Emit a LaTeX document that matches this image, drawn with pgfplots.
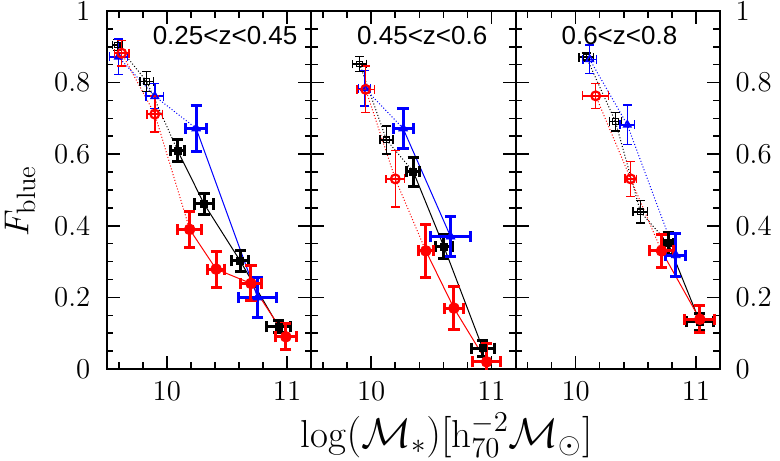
\documentclass[border=0pt]{standalone}
\usepackage{fontspec}
\newfontfamily\hel{Liberation Sans}
\usepackage{pgfplots}
\usepackage{pgfplotstable}
\pgfplotsset{compat=1.18}

% columns: x y ex ey  (open points first, then filled ones)
\pgfplotstableread{
x y ex ey
9.588 0.905 0.040 0.015
9.833 0.803 0.058 0.028
10.09 0.610 0.060 0.030
10.31 0.461 0.077 0.030
10.61 0.302 0.073 0.029
10.93 0.118 0.097 0.017
}\kA
\pgfplotstableread{
x y ex ey
9.625 0.882 0.060 0.036
9.900 0.712 0.064 0.050
10.19 0.390 0.100 0.050
10.41 0.279 0.072 0.050
10.70 0.239 0.090 0.049
10.99 0.090 0.090 0.036
}\rA
\pgfplotstableread{
x y ex ey
9.597 0.872 0.074 0.050
9.900 0.762 0.074 0.035
10.244 0.672 0.090 0.065
10.755 0.200 0.160 0.056
}\bA
\pgfplotstableread{
x y ex ey
9.904 0.852 0.058 0.021
10.127 0.640 0.055 0.039
10.35 0.551 0.055 0.041
10.604 0.342 0.072 0.034
10.927 0.058 0.097 0.022
}\kB
\pgfplotstableread{
x y ex ey
9.954 0.781 0.074 0.065
10.20 0.531 0.076 0.079
10.454 0.330 0.060 0.075
10.688 0.170 0.079 0.060
10.96 0.020 0.118 0.050
}\rB
\pgfplotstableread{
x y ex ey
9.946 0.784 0.050 0.050
10.265 0.672 0.083 0.056
10.66 0.370 0.167 0.057
}\bB
\pgfplotstableread{
x y ex ey
10.089 0.871 0.060 0.012
10.331 0.691 0.050 0.026
10.539 0.439 0.060 0.031
10.77 0.351 0.045 0.030
11.033 0.132 0.110 0.024
}\kC
\pgfplotstableread{
x y ex ey
10.167 0.763 0.108 0.035
10.458 0.531 0.049 0.049
10.714 0.330 0.100 0.047
11.033 0.139 0.125 0.037
}\rC
\pgfplotstableread{
x y ex ey
10.117 0.865 0.056 0.040
10.43 0.682 0.060 0.055
10.833 0.318 0.083 0.061
}\bC

\tikzset{ttl/.style={anchor=west, inner sep=0pt, font=\hel\fontsize{13}{15}\selectfont}}
\pgfplotsset{
  panel/.style={
    scale only axis, width=102.2pt, height=179pt,
    xmin=9.5, xmax=11.2, ymin=0, ymax=1,
    xtick={10,11}, minor xtick={9.6,9.8,10.2,10.4,10.6,10.8},
    ytick={0,0.2,0.4,0.6,0.8,1}, minor y tick num=3,
    tick align=inside, major tick length=6.5pt, minor tick length=3.3pt,
    every tick/.style={line width=0.8pt, black},
    axis line style={line width=1pt},
    xtick pos=both, ytick pos=both, xticklabel pos=bottom,
    tick label style={font=\fontsize{14}{16}\selectfont},
    xticklabel style={yshift=-3pt},
    anchor=south west,
  },
  openbars/.style={only marks, error bars/.cd, x dir=both, x explicit, y dir=both, y explicit,
     error bar style={line width=0.75pt},
     error mark options={rotate=90, mark size=2.2pt, line width=0.75pt}, /pgfplots/.cd},
  fillbars/.style={only marks, error bars/.cd, x dir=both, x explicit, y dir=both, y explicit,
     error bar style={line width=1.5pt},
     error mark options={rotate=90, mark size=2.8pt, line width=1.5pt}, /pgfplots/.cd},
  kO/.style={mark=square, mark size=1.4pt, mark options={line width=0.6pt, solid}},
  kF/.style={mark=square*, mark size=1.75pt, mark options={solid}},
  rO/.style={mark=o, mark size=2.2pt, mark options={line width=1.1pt, solid}},
  rF/.style={mark=*, mark size=2.7pt, mark options={solid}},
  bO/.style={mark=triangle, mark size=2pt, mark options={line width=0.8pt, solid}},
  bF/.style={mark=triangle*, mark size=2.5pt, mark options={solid}},
}
% #1 table, #2 colour, #3 number of open points, #4 that number + 1
\newcommand\seriesLines[4]{%
  \addplot[#2, densely dotted, line width=0.5pt, mark=none, skip coords between index={#4}{100}] table[x=x,y=y]{#1};
  \addplot[#2, line width=0.5pt, mark=none, skip coords between index={0}{#3}] table[x=x,y=y]{#1};
}
% #1 table, #2 colour, #3 number of open points, #4 open mark style, #5 filled mark style
\newcommand\seriesPoints[5]{%
  \addplot[#2, #4, openbars, skip coords between index={#3}{100}] table[x=x,y=y,x error=ex,y error=ey]{#1};
  \addplot[#2, #5, fillbars, skip coords between index={0}{#3}] table[x=x,y=y,x error=ex,y error=ey]{#1};
}

\begin{document}
\begin{tikzpicture}
\useasboundingbox (-53.35pt,-45.5pt) rectangle (336.65pt,184.5pt);

\begin{axis}[panel, at={(0pt,0pt)}, yticklabel pos=left, ytick pos=both,
   yticklabel style={xshift=-4.7pt}]
  \seriesLines{\kA}{black}{2}{3}
  \seriesLines{\rA}{red}{2}{3}
  \seriesLines{\bA}{blue}{2}{3}
  \seriesPoints{\kA}{black}{2}{kO}{kF}
  \seriesPoints{\bA}{blue}{2}{bO}{bF}
  \seriesPoints{\rA}{red}{2}{rO}{rF}
  \node[ttl] at (axis cs:9.88,0.931) {0.25<z<0.45};
\end{axis}

\begin{axis}[panel, at={(102.2pt,0pt)}, yticklabels={}]
  \seriesLines{\kB}{black}{2}{3}
  \seriesLines{\rB}{red}{2}{3}
  \seriesLines{\bB}{blue}{1}{2}
  \seriesPoints{\kB}{black}{2}{kO}{kF}
  \seriesPoints{\bB}{blue}{1}{bO}{bF}
  \seriesPoints{\rB}{red}{2}{rO}{rF}
  \node[ttl] at (axis cs:9.88,0.931) {0.45<z<0.6};
\end{axis}

\begin{axis}[panel, at={(204.4pt,0pt)}, yticklabel pos=right, ytick pos=both,
   yticklabel style={xshift=4.3pt}]
  \seriesLines{\kC}{black}{3}{4}
  \seriesLines{\rC}{red}{2}{3}
  \seriesLines{\bC}{blue}{2}{3}
  \seriesPoints{\kC}{black}{3}{kO}{kF}
  \seriesPoints{\bC}{blue}{2}{bO}{bF}
  \seriesPoints{\rC}{red}{2}{rO}{rF}
  \node[ttl] at (axis cs:9.88,0.931) {0.6<z<0.8};
\end{axis}

\node[rotate=90, inner sep=0pt] at (-43.3pt,84pt) {\fontsize{19}{22}\selectfont$F_{\mathrm{blue}}$};
\node[anchor=base] at (170pt,-39pt) {\fontsize{19.5}{23}\selectfont$\log(\mathcal{M}_*)[\mathrm{h}_{70}^{-2}\mathcal{M}_\odot]$};
\end{tikzpicture}
\end{document}
